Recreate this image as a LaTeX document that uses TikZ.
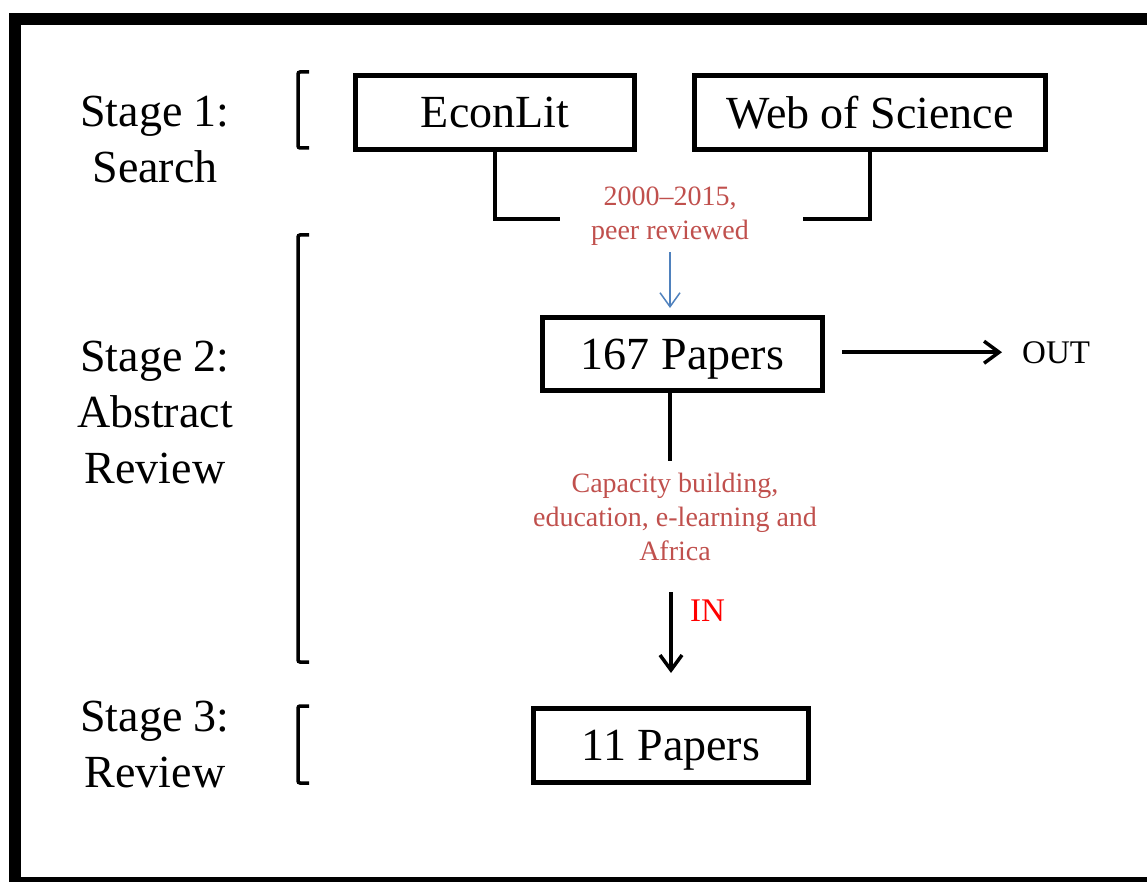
\documentclass[tikz,border=0pt]{standalone}
\usepackage{fontspec}
\setmainfont{Liberation Serif}
\usetikzlibrary{arrows.meta}
\definecolor{capred}{HTML}{C0504D}
\definecolor{accblue}{HTML}{4F81BD}
\begin{document}
\begin{tikzpicture}[x=1pt,y=-1pt,
  box/.style={draw, line width=5pt, minimum height=74pt, inner sep=0pt, text depth=0pt, font=\fontsize{46}{56}\selectfont},
  stagelbl/.style={align=center, anchor=base, inner sep=0pt, font=\fontsize{46}{56}\selectfont},
  caption/.style={align=center, text=capred, inner sep=0pt, font=\fontsize{28}{34}\selectfont},
  conn/.style={line width=3.5pt},
  brk/.style={line width=3.5pt, rounded corners=2pt},
  blackarrow/.style={line width=3.5pt, -{Straight Barb[length=15pt,width=22pt]}},
  bluearrow/.style={draw=accblue, line width=1.5pt, -{Straight Barb[length=14pt,width=20pt]}},
  smalllbl/.style={inner sep=0pt, font=\fontsize{33}{40}\selectfont}
]
\useasboundingbox (0,0) rectangle (1147,882);
\begin{scope}
  \clip (0,0) rectangle (1147,882);
  \draw[line width=12pt] (14.5,19) rectangle (1170,883);
\end{scope}

% stage labels (anchor base = baseline of last line)
\node[stagelbl] (s1) at (155,183) {Stage 1:\\Search};
\node[stagelbl] (s2) at (155,483) {Stage 2:\\Abstract\\Review};
\node[stagelbl] (s3) at (155,787) {Stage 3:\\Review};

% brackets
\draw[brk] (309,72) -- (298,72) -- (298,148) -- (309,148);
\draw[brk] (309,235) -- (298,235) -- (298,662) -- (309,662);
\draw[brk] (309,706) -- (298,706) -- (298,783) -- (309,783);

% boxes
\node[box, minimum width=279pt] (econ) at (495,112.5) {EconLit};
\node[box, minimum width=351pt] (wos) at (870,112.5) {Web of Science};
\node[box, minimum width=280pt, minimum height=73pt] (p167) at (682.5,354) {167 Papers};
\node[box, minimum width=275pt] (p11) at (671,745.5) {11 Papers};

% captions
\node[caption, anchor=base] (cap1) at (670,240) {2000--2015,\\peer reviewed};
\node[caption, anchor=base] (cap2) at (675,560) {Capacity building,\\education, e-learning and\\Africa};

% side labels
\node[smalllbl, text=red, anchor=base west] (inlbl) at (690,621) {IN};
\node[smalllbl, anchor=base west] (out) at (1022,363) {OUT};

% connectors
\coordinate (j1) at (560,219);
\coordinate (j2) at (803,219);
\draw[conn] (econ.south) |- (j1);
\draw[conn] (wos.south) |- (j2);
\draw[bluearrow, shorten <=6pt, shorten >=7pt] (cap1.south) -- (cap1.south |- p167.north);
\draw[conn, shorten >=11pt] (p167.south -| cap1.south) -- (cap2.north -| cap1.south);
\draw[blackarrow, shorten <=32pt, shorten >=33pt] (p11.north |- cap2.south) -- (p11.north);
\draw[blackarrow, shorten <=17pt, shorten >=20pt] (out.west -| p167.east) -- (out.west);
\end{tikzpicture}
\end{document}
